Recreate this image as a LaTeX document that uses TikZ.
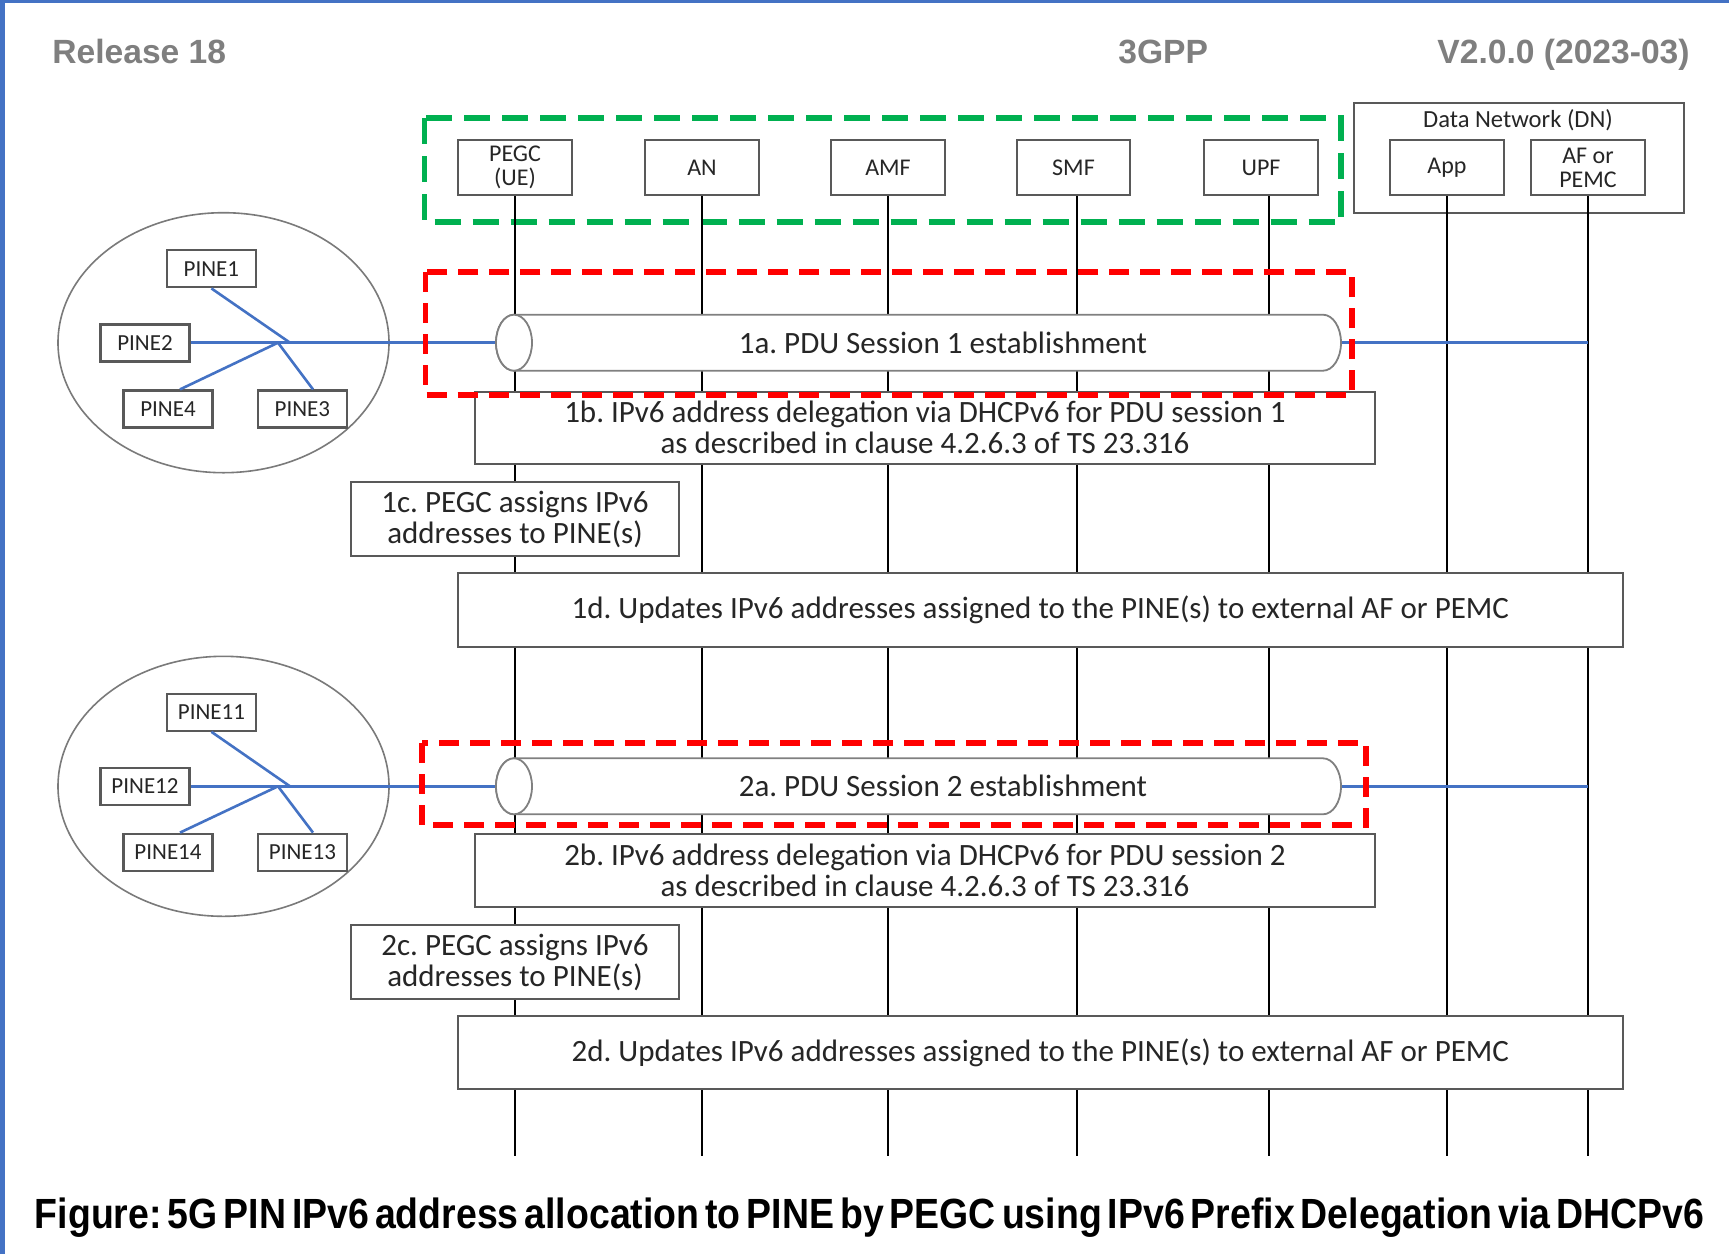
\documentclass[tikz,border=0pt]{standalone}
\usepackage{graphicx}
\usepackage{fontspec}
\setmainfont{Carlito}
\newfontfamily\arialfont{Liberation Sans}
\usetikzlibrary{calc}

\definecolor{pinblue}{HTML}{4472C4}
\definecolor{hdrgray}{HTML}{7F7F7F}
\definecolor{boxgray}{HTML}{595959}
\definecolor{tubegray}{HTML}{808080}
\definecolor{dashgreen}{HTML}{00B050}
\definecolor{dashred}{HTML}{FF0000}
\definecolor{inkgray}{HTML}{262626}

\tikzset{
  entity/.style={draw=boxgray, line width=1pt, fill=white, minimum width=56.8pt,
    minimum height=27.5pt, inner sep=0pt, align=center, text=inkgray,
    font=\fontsize{12}{12}\selectfont},
  pine/.style={draw=boxgray, line width=1.1pt, fill=white, minimum width=44.5pt,
    minimum height=18.5pt, inner sep=0pt, text=inkgray,
    font=\fontsize{11.5}{12}\selectfont},
  stepbox/.style={draw=boxgray, line width=1pt, fill=white, inner sep=0pt,
    align=center, text=inkgray, font=\fontsize{15.5}{15.5}\selectfont},
  steptext/.style={inner sep=0pt, align=center, text=inkgray,
    font=\fontsize{15.5}{15.5}\selectfont},
  lifeline/.style={line width=1.1pt, black},
  pinline/.style={line width=1.3pt, pinblue},
  pingroup/.style={draw=boxgray!80, line width=0.8pt},
  tube/.style={draw=tubegray, line width=0.9pt, fill=white},
  greenbox/.style={draw=dashgreen, line width=2.8pt, dash pattern=on 13pt off 6pt},
  redbox/.style={draw=dashred, line width=2.8pt, dash pattern=on 10pt off 5.5pt},
  header/.style={inner sep=0pt, text=hdrgray, font=\arialfont\bfseries\fontsize{16.8}{20}\selectfont},
}

\begin{document}
\frenchspacing
\begin{tikzpicture}[x=0.5pt, y=-0.5pt]
\useasboundingbox (0,0) rectangle (1729,1254);
\fill[white] (0,0) rectangle (1729,1254);
% page frame
\fill[pinblue] (0,0) rectangle (5,1254);
\fill[pinblue] (0,0) rectangle (1729,3);

% header line
\node[header, anchor=base west] (rel) at (52,63.5) {Release 18};
\node[header, anchor=base west] (org) at (1118,63.5) {3GPP};
\node[header, anchor=base east] (ver) at (1690,63.5) {V2.0.0 (2023-03)};

% 5G system entities
\draw[greenbox] (424.5,118) rectangle (1341,222);
\draw[draw=boxgray, line width=1pt] (1354,102.5) rectangle (1684,213);
\node[inner sep=0pt, text=inkgray, font=\fontsize{12.3}{12}\selectfont] (dn) at (1518,120) {Data Network (DN)};

\node[entity] (pegc) at (515,167.5) {PEGC\\(UE)};
\node[entity] (an)   at (702,167.5) {AN};
\node[entity] (amf)  at (888,167.5) {AMF};
\node[entity] (smf)  at (1073.5,167.5) {SMF};
\node[entity] (upf)  at (1261,167.5) {UPF};
\node[entity] (app)  at (1447,167.5) {App};
\node[entity] (af)   at (1588,167.5) {AF or\\PEMC};

% lifelines
\foreach \e/\dx in {pegc/0,an/0,amf/0,smf/1.8,upf/4,app/0,af/0}
  \draw[lifeline] ([xshift=\dx pt]\e.south) -- ([xshift=\dx pt]\e.south |- 0,1156);

% PIN group 1
\draw[pingroup] (223.5,342.7) ellipse[x radius=165.5, y radius=130];
\node[pine] (pine1) at (211.4,268.8) {PINE1};
\node[pine] (pine2) at (145,343) {PINE2};
\node[pine] (pine4) at (168,409) {PINE4};
\node[pine] (pine3) at (302.4,409) {PINE3};
\coordinate (hub1a) at (290,342.7);
\coordinate (hub1b) at (278,342.7);
\coordinate (tube1l) at (496,342.7);
\coordinate (tube1r) at (1341,342.7);
\draw[pinline] (pine1.south) -- (hub1a);
\draw[pinline] ([xshift=6pt]pine4.north) -- (hub1b);
\draw[pinline] ([xshift=5.3pt]pine3.north) -- (hub1b);
\draw[pinline] (pine2.east |- hub1a) -- (tube1l);
\draw[pinline] (tube1r) -- (tube1r -| af);

% PIN group 2
\draw[pingroup] (223.5,786.3) ellipse[x radius=165.5, y radius=130];
\node[pine] (pine11) at (211.4,712.2) {PINE11};
\node[pine] (pine12) at (145,786.3) {PINE12};
\node[pine] (pine14) at (168,852.2) {PINE14};
\node[pine] (pine13) at (302.4,852.2) {PINE13};
\coordinate (hub2a) at (290,786.3);
\coordinate (hub2b) at (278,786.3);
\coordinate (tube2l) at (496,786.3);
\coordinate (tube2r) at (1341,786.3);
\draw[pinline] (pine11.south) -- (hub2a);
\draw[pinline] ([xshift=6pt]pine14.north) -- (hub2b);
\draw[pinline] ([xshift=5.3pt]pine13.north) -- (hub2b);
\draw[pinline] (pine12.east |- hub2a) -- (tube2l);
\draw[pinline] (tube2r) -- (tube2r -| af);

% PDU session pipes
\draw[tube] (514,314.7) -- (1323,314.7) arc[start angle=-90, end angle=90, x radius=18, y radius=28]
  -- (514,370.7) arc[start angle=90, end angle=270, x radius=18, y radius=28] -- cycle;
\draw[tube] (514,342.7) ellipse[x radius=18, y radius=28];
\node[steptext] (s1a) at (943,342.7) {1a. PDU Session 1 establishment};

\draw[tube] (514,758.3) -- (1323,758.3) arc[start angle=-90, end angle=90, x radius=18, y radius=28]
  -- (514,814.3) arc[start angle=90, end angle=270, x radius=18, y radius=28] -- cycle;
\draw[tube] (514,786.3) ellipse[x radius=18, y radius=28];
\node[steptext] (s2a) at (943,786.3) {2a. PDU Session 2 establishment};

% procedure steps
\node[stepbox, minimum width=450pt, minimum height=36.3pt] (s1b) at (925,427.8)
  {1b. IPv6 address delegation via DHCPv6 for PDU session 1\\as described in clause 4.2.6.3 of TS 23.316};
\node[stepbox, minimum width=164pt, minimum height=37pt] (s1c) at (515,519)
  {1c. PEGC assigns IPv6\\addresses to PINE(s)};
\node[stepbox, minimum width=582.7pt, minimum height=36.8pt] (s1d) at (1040.3,610.2)
  {1d. Updates IPv6 addresses assigned to the PINE(s) to external AF or PEMC};

\node[stepbox, minimum width=450pt, minimum height=36.9pt] (s2b) at (925,870.5)
  {2b. IPv6 address delegation via DHCPv6 for PDU session 2\\as described in clause 4.2.6.3 of TS 23.316};
\node[stepbox, minimum width=164pt, minimum height=37pt] (s2c) at (515,962)
  {2c. PEGC assigns IPv6\\addresses to PINE(s)};
\node[stepbox, minimum width=582.7pt, minimum height=36.9pt] (s2d) at (1040.3,1052.5)
  {2d. Updates IPv6 addresses assigned to the PINE(s) to external AF or PEMC};

% highlighted PDU session establishment
\draw[redbox] (425.6,272) rectangle (1352,395);
\draw[redbox] (422,743) rectangle (1366,825);

% caption
\node[anchor=base, inner sep=0pt] (caption) at (869.5,1228)
  {\resizebox{834.5pt}{15.3pt}{\arialfont\bfseries\spaceskip=0.16em Figure: 5G PIN IPv6 address allocation to PINE by PEGC using IPv6 Prefix Delegation via DHCPv6}};
\end{tikzpicture}
\end{document}
